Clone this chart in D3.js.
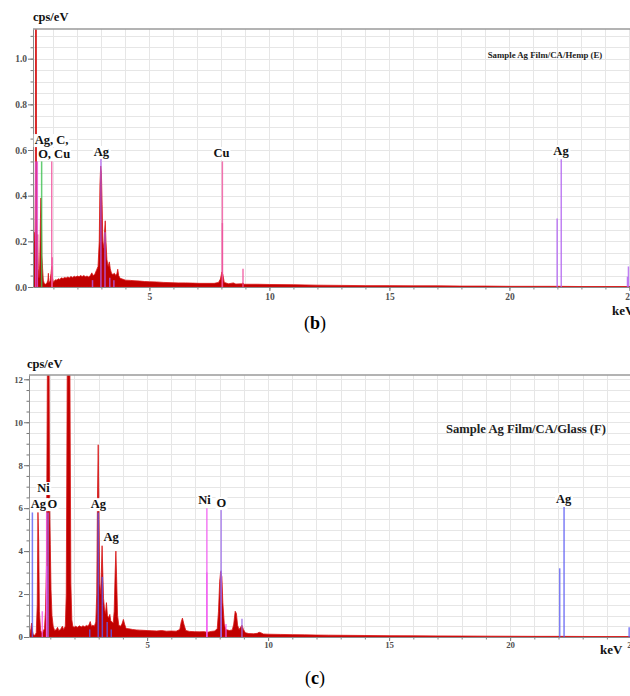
<!DOCTYPE html>
<html>
<head>
<meta charset="utf-8">
<script src="https://cdn.jsdelivr.net/npm/d3@7"></script>
<style>
body { margin: 0; background: white; }
svg { display: block; font-family: "Liberation Serif", "Times New Roman", serif; }
</style>
</head>
<body>
<div id="chart"></div>
<script>
"use strict"

// ---- panel (b): Sample Ag Film/CA/Hemp (E) ----
// spectrum as [keV, cps/eV]
const spectrumB = [
  [0.15,0],[0.17,0.08],[0.2,0.24],[0.23,0.2],[0.25,0.45],[0.26,1.6],[0.285,1.6],[0.3,0.3],[0.32,0.12],
  [0.345,0.23],[0.37,0.08],[0.4,0.04],[0.43,0.1],[0.46,0.3],[0.48,0.39],[0.5,0.32],[0.52,0.14],[0.55,0.08],
  [0.58,0.03],[0.62,0.015],[0.68,0.012],[0.73,0.018],[0.77,0.03],[0.79,0.06],[0.81,0.02],[0.86,0.025],
  [0.9,0.06],[0.93,0.09],[0.96,0.04],[1.0,0.02],[1.05,0.028],[1.1,0.032],[1.15,0.03],[1.2,0.036],
  [1.27,0.033],[1.33,0.04],[1.4,0.037],[1.47,0.042],[1.53,0.039],[1.6,0.044],[1.67,0.04],[1.73,0.046],
  [1.8,0.042],[1.87,0.047],[1.93,0.044],[2.0,0.048],[2.07,0.045],[2.13,0.05],[2.2,0.046],[2.27,0.05],
  [2.33,0.045],[2.4,0.048],[2.47,0.044],[2.54,0.05],[2.6,0.062],[2.65,0.05],[2.72,0.055],[2.8,0.075],
  [2.86,0.09],[2.91,0.2],[2.94,0.45],[2.97,0.53],[3.0,0.5],[3.03,0.36],[3.06,0.2],[3.1,0.17],[3.13,0.24],
  [3.16,0.29],[3.19,0.2],[3.23,0.12],[3.28,0.09],[3.33,0.11],[3.37,0.08],[3.42,0.06],[3.48,0.055],
  [3.54,0.06],[3.6,0.05],[3.65,0.06],[3.68,0.078],[3.72,0.05],[3.78,0.038],[3.9,0.034],[4.0,0.03],
  [4.2,0.029],[4.4,0.027],[4.6,0.026],[4.8,0.024],[5.0,0.023],[5.3,0.022],[5.6,0.02],[5.9,0.019],
  [6.2,0.018],[6.5,0.018],[6.8,0.017],[7.1,0.016],[7.4,0.016],[7.7,0.016],[7.88,0.02],[7.96,0.035],
  [8.02,0.066],[8.06,0.055],[8.12,0.02],[8.3,0.014],[8.5,0.018],[8.6,0.013],[8.85,0.014],[8.9,0.018],
  [8.95,0.012],[9.5,0.012],[10,0.011],[11,0.01],[12,0.008],[13,0.007],[14,0.006],[15,0.006],[16,0.005],
  [17,0.005],[18,0.004],[19,0.004],[20,0.003],[21,0.003],[22,0.003],[23,0.002],[24,0.002],[25,0.002],[25.3,0]
]
// element lines as [keV, cps/eV, element]
const markersB = [
  [0.26,0.55,"C"],[0.33,0.55,"C"],[0.51,0.55,"O"],[0.93,0.55,"Cu"],[0.95,0.13,"Cu"],
  [2.63,0.03,"Ag"],[2.98,0.565,"Ag"],[3.15,0.24,"Ag"],[3.35,0.04,"Ag"],[3.52,0.03,"Ag"],
  [8.04,0.55,"Cu"],[8.04,0.28,"Cu"],[8.9,0.08,"Cu"],
  [21.99,0.3,"Ag"],[22.16,0.56,"Ag"],[24.92,0.045,"Ag"],[24.96,0.09,"Ag"]
]
const labelsB = [
  ["Ag, C,",0.92,0.626],["O, Cu",1.03,0.565],["Ag",3.0,0.574],["Cu",8.0,0.569],["Ag",22.15,0.578]
]
const yTicksB = [0, 0.2, 0.4, 0.6, 0.8, 1.0]
const colorsB = {C: "#e04ad8", O: "#3cc050", Cu: "#f0509c", Ag: "#b060f0"}

// ---- panel (c): Sample Ag Film/CA/Glass (F) ----
const spectrumC = [
  [0.12,0],[0.16,0.15],[0.2,0.4],[0.23,0.65],[0.26,0.3],[0.3,0.1],[0.36,0.08],[0.42,0.2],[0.46,1.5],
  [0.49,5.8],[0.52,4.5],[0.55,1.2],[0.6,0.3],[0.65,0.2],[0.7,0.25],[0.76,0.4],[0.8,1.2],[0.84,3.2],
  [0.88,12.6],[0.95,12.6],[0.97,6.5],[1.0,4.3],[1.03,2.2],[1.07,1.0],[1.12,0.5],[1.18,0.3],[1.25,0.35],
  [1.3,0.45],[1.35,0.3],[1.42,0.35],[1.5,0.5],[1.55,0.35],[1.62,0.5],[1.66,2.0],[1.7,12.6],[1.81,12.6],
  [1.85,2.5],[1.89,0.8],[1.93,0.5],[1.98,0.45],[2.05,0.5],[2.12,0.45],[2.2,0.52],[2.28,0.47],[2.35,0.52],
  [2.42,0.48],[2.5,0.54],[2.56,0.5],[2.61,0.6],[2.65,0.72],[2.7,0.5],[2.76,0.55],[2.82,0.5],[2.88,0.7],
  [2.92,2.0],[2.95,6.5],[2.98,8.95],[3.01,6.0],[3.04,2.5],[3.08,2.0],[3.11,3.0],[3.14,4.25],[3.17,3.0],
  [3.2,1.8],[3.24,1.3],[3.28,1.1],[3.32,1.6],[3.36,1.0],[3.41,0.9],[3.46,1.05],[3.5,0.75],[3.55,0.7],
  [3.6,0.65],[3.64,1.2],[3.68,3.0],[3.71,4.0],[3.74,2.8],[3.78,1.0],[3.83,0.55],[3.9,0.5],[3.96,0.6],
  [4.02,0.82],[4.07,0.6],[4.13,0.4],[4.25,0.38],[4.4,0.35],[4.55,0.33],[4.7,0.32],[4.85,0.31],[5.0,0.3],
  [5.2,0.29],[5.4,0.28],[5.6,0.3],[5.8,0.27],[6.0,0.28],[6.2,0.27],[6.35,0.35],[6.41,0.7],[6.46,0.88],
  [6.52,0.6],[6.6,0.3],[6.75,0.26],[6.95,0.25],[7.15,0.24],[7.35,0.25],[7.5,0.22],[7.65,0.26],[7.8,0.28],
  [7.9,0.4],[7.95,1.2],[8.0,2.6],[8.04,3.05],[8.09,2.8],[8.13,1.6],[8.19,0.6],[8.25,0.35],[8.4,0.3],
  [8.52,0.33],[8.58,0.6],[8.64,1.2],[8.69,1.1],[8.74,0.55],[8.8,0.35],[8.86,0.45],[8.92,0.55],[8.98,0.35],
  [9.06,0.2],[9.2,0.16],[9.4,0.15],[9.55,0.17],[9.63,0.22],[9.7,0.2],[9.8,0.14],[10,0.13],[10.5,0.12],
  [11,0.11],[11.5,0.1],[12,0.09],[12.5,0.085],[13,0.08],[14,0.07],[15,0.06],[16,0.055],[17,0.05],
  [18,0.045],[19,0.04],[20,0.035],[21,0.03],[22,0.03],[23,0.025],[24,0.02],[25,0.02],[25.3,0]
]
const markersC = [
  [0.26,5.8,"Ag"],[0.67,1.2,"Ni"],[0.85,5.8,"Ni"],[0.85,3.3,"Ni"],[0.91,5.8,"O"],
  [2.63,0.35,"Ag"],[2.98,5.8,"Ag"],[3.15,2.8,"Ag"],[3.35,0.7,"Ag"],[3.52,0.35,"Ag"],
  [7.47,6.0,"Ni"],[7.47,3.0,"Ni"],[8.26,0.6,"Ni"],[8.06,6.0,"O"],[8.06,3.1,"O"],[8.92,0.85,"O"],
  [22.05,3.2,"Ag"],[22.23,6.05,"Ag"],[24.92,0.45,"Ag"]
]
const labelsC = [
  ["Ag",0.51,6.0],["Ni",0.72,6.75],["O",1.09,6.0],["Ag",2.99,6.0],["Ag",3.51,4.47],
  ["Ni",7.37,6.19],["O",8.07,6.05],["Ag",22.21,6.24]
]
const yTicksC = [0, 2, 4, 6, 8, 10, 12]
const colorsC = {Ag: "#5c5cf4", Ni: "#f05af0", O: "#9c6ce8"}

const keVTicks = [5, 10, 15, 20, 25]

const W = 630, H = 696
const svg = d3.select("#chart").append("svg")
  .attr("width", W)
  .attr("height", H)
  .attr("viewBox", `0,0,${W},${H}`)

function drawPanel(p) {
  const x = d3.scaleLinear().domain(p.xDomain).range([p.left, p.right])
  const y = d3.scaleLinear().domain(p.yDomain).range([p.bottom, p.top])
  const g = svg.append("g")

  const clipId = "clip-" + p.id
  g.append("clipPath").attr("id", clipId)
    .append("rect")
      .attr("x", p.left).attr("y", p.top)
      .attr("width", p.right - p.left).attr("height", p.bottom - p.top)

  // grid
  const grid = g.append("g").attr("stroke", "#e6e6e6").attr("stroke-width", 1)
  grid.selectAll(".gy")
    .data(d3.range(p.minorY, p.yDomain[1], p.minorY))
    .join("line")
      .attr("x1", p.left).attr("x2", p.right)
      .attr("y1", d => Math.round(y(d)) + 0.5).attr("y2", d => Math.round(y(d)) + 0.5)
  grid.selectAll(".gx")
    .data(d3.range(1, 26))
    .join("line")
      .attr("x1", d => Math.round(x(d)) + 0.5).attr("x2", d => Math.round(x(d)) + 0.5)
      .attr("y1", p.top).attr("y2", p.bottom)

  // spectrum
  const area = d3.area()
    .x(d => x(d[0]))
    .y0(y(0))
    .y1(d => y(d[1]))
  g.append("path")
    .datum(p.spectrum)
    .attr("clip-path", `url(#${clipId})`)
    .attr("d", area)
    .attr("fill", "#c00000")
    .attr("stroke", "#d81414")
    .attr("stroke-width", 0.8)
    .attr("stroke-linejoin", "round")

  // element lines
  g.append("g")
    .attr("clip-path", `url(#${clipId})`)
    .selectAll("line")
    .data(p.markers)
    .join("line")
      .attr("x1", d => x(d[0])).attr("x2", d => x(d[0]))
      .attr("y1", y(0)).attr("y2", d => y(d[1]))
      .attr("stroke", d => p.colors[d[2]])
      .attr("stroke-width", 1.5)
      .attr("stroke-opacity", 0.8)

  // top frame line
  g.append("line")
    .attr("x1", p.left).attr("x2", W + 10)
    .attr("y1", p.top).attr("y2", p.top)
    .attr("stroke", "#9a9a9a").attr("stroke-width", 1.5)

  // axes
  const yAxis = g.append("g")
    .attr("transform", `translate(${p.left},0)`)
    .call(d3.axisLeft(y).tickValues(p.yTicks).tickSize(5).tickSizeOuter(0).tickPadding(1)
      .tickFormat(p.yFormat))
  g.append("g")
    .attr("transform", `translate(${p.left},0)`)
    .call(d3.axisLeft(y).tickValues(d3.range(p.minorY, p.yDomain[1], p.minorY)).tickSize(2.5)
      .tickSizeOuter(0).tickFormat(""))
    .call(a => a.select(".domain").remove())
    .selectAll("line").attr("stroke", "#777")

  const xAxis = g.append("g")
    .attr("transform", `translate(0,${p.bottom})`)
    .call(d3.axisBottom(x).tickValues(keVTicks).tickSize(4).tickSizeOuter(0).tickPadding(p.xPad))
  g.append("g")
    .attr("transform", `translate(0,${p.bottom})`)
    .call(d3.axisBottom(x).tickValues(d3.range(1, 26)).tickSize(2.5).tickSizeOuter(0).tickFormat(""))
    .call(a => a.select(".domain").remove())
    .selectAll("line").attr("stroke", "#888")

  for (const a of [yAxis, xAxis]) {
    a.select(".domain").attr("stroke", "#8a8a8a")
    a.selectAll(".tick line").attr("stroke", "#777")
    a.selectAll(".tick text")
      .attr("fill", "#505050")
      .attr("font-family", "Liberation Serif, Times New Roman, serif")
      .attr("font-weight", "bold")
      .attr("font-size", p.tickFont)
  }

  // peak labels with white boxes
  const lab = g.append("g")
    .selectAll("g")
    .data(p.labels)
    .join("g")
  lab.append("text")
    .attr("x", d => x(d[1]))
    .attr("y", d => y(d[2]))
    .attr("text-anchor", "middle")
    .attr("font-weight", "bold")
    .attr("font-size", 12.5)
    .attr("fill", "#111")
    .text(d => d[0])
  lab.each(function() {
    const t = d3.select(this).select("text")
    const b = t.node().getBBox()
    d3.select(this).insert("rect", "text")
      .attr("x", b.x - 1).attr("y", b.y + 1)
      .attr("width", b.width + 2).attr("height", b.height - 1)
      .attr("fill", "white")
  })

  // sample name
  g.append("text")
    .attr("x", p.titleX).attr("y", p.titleY)
    .attr("text-anchor", "middle")
    .attr("font-weight", "bold")
    .attr("font-size", p.titleFont)
    .attr("fill", "#222")
    .text(p.title)

  // axis units
  g.append("text")
    .attr("x", p.unitX).attr("y", p.unitY)
    .attr("font-weight", "bold").attr("font-size", 12.5).attr("fill", "#111")
    .text("cps/eV")
  g.append("text")
    .attr("x", p.kevX).attr("y", p.kevY)
    .attr("font-weight", "bold").attr("font-size", 13).attr("fill", "#111")
    .text("keV")

  // panel letter
  const letter = g.append("text")
    .attr("x", W / 2).attr("y", p.letterY)
    .attr("text-anchor", "middle")
    .attr("font-size", 18).attr("fill", "#000")
  letter.append("tspan").text("(")
  letter.append("tspan").attr("font-weight", "bold").text(p.letter)
  letter.append("tspan").text(")")
}

drawPanel({
  id: "b", letter: "b", letterY: 329,
  left: 33, right: 633, top: 29, bottom: 287,
  xDomain: [0.15, 25.15], yDomain: [0, 1.13],
  yTicks: yTicksB, minorY: 0.05, yFormat: d3.format(".1f"),
  tickFont: 9.5, xPad: 2,
  spectrum: spectrumB, markers: markersB, labels: labelsB, colors: colorsB,
  title: "Sample Ag Film/CA/Hemp (E)", titleX: 545, titleY: 58, titleFont: 8.8,
  unitX: 33, unitY: 21, kevX: 612, kevY: 315
})

drawPanel({
  id: "c", letter: "c", letterY: 684,
  left: 29, right: 634, top: 375, bottom: 637,
  xDomain: [0.12, 25.12], yDomain: [0, 12.2],
  yTicks: yTicksC, minorY: 0.5, yFormat: d3.format("d"),
  tickFont: 8.8, xPad: 1,
  spectrum: spectrumC, markers: markersC, labels: labelsC, colors: colorsC,
  title: "Sample Ag Film/CA/Glass (F)", titleX: 526, titleY: 433, titleFont: 12.6,
  unitX: 27, unitY: 368, kevX: 600, kevY: 654
})
</script>
</body>
</html>
